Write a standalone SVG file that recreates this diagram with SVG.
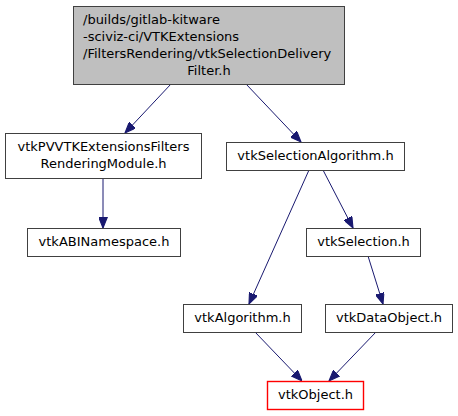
<svg xmlns="http://www.w3.org/2000/svg" width="458" height="416" viewBox="0 0 458 416">
<style>
.n rect{fill:#fff;stroke:#404040;stroke-width:1}
.root rect{fill:#bfbfbf}
text{font-family:"DejaVu Sans",sans-serif;font-size:13px;fill:#000}
.e{stroke:#191970;stroke-width:1;fill:none;marker-end:url(#a)}
</style>
<defs>
<marker id="a" viewBox="0 0 10 8" refX="10" refY="4" markerWidth="11" markerHeight="9" markerUnits="userSpaceOnUse" orient="auto">
<path d="M0,0L10,4L0,8z" fill="#191970" stroke="#191970"/>
</marker>
</defs>
<rect width="458" height="416" fill="#fff"/>
<g id="connectors">
<line class="e" x1="171" y1="84" x2="125" y2="133"/>
<line class="e" x1="246" y1="84" x2="301" y2="142"/>
<line class="e" x1="103" y1="178" x2="103" y2="228"/>
<line class="e" x1="309" y1="170" x2="249" y2="304"/>
<line class="e" x1="323" y1="170" x2="353" y2="228"/>
<line class="e" x1="368" y1="256" x2="383" y2="304"/>
<line class="e" x1="255" y1="332" x2="302" y2="381"/>
<line class="e" x1="376" y1="332" x2="329" y2="381"/>
</g>
<g id="root" class="n root">
<rect x="73.5" y="6.5" width="271" height="78"/>
<text x="83" y="24">/builds/gitlab-kitware</text>
<text x="83" y="41">-sciviz-ci/VTKExtensions</text>
<text x="83" y="58">/FiltersRendering/vtkSelectionDelivery</text>
<text x="209" y="75" text-anchor="middle">Filter.h</text>
</g>
<g id="pvvtk" class="n">
<rect x="5.5" y="133.5" width="196" height="45"/>
<text x="103.5" y="151" text-anchor="middle">vtkPVVTKExtensionsFilters</text>
<text x="103.5" y="168" text-anchor="middle">RenderingModule.h</text>
</g>
<g id="abi" class="n">
<rect x="27.5" y="228.5" width="153" height="28"/>
<text x="104" y="246" text-anchor="middle">vtkABINamespace.h</text>
</g>
<g id="selalg" class="n">
<rect x="226.5" y="142.5" width="178" height="28"/>
<text x="315.5" y="160" text-anchor="middle">vtkSelectionAlgorithm.h</text>
</g>
<g id="selection" class="n">
<rect x="306.5" y="228.5" width="114" height="28"/>
<text x="363.5" y="246" text-anchor="middle">vtkSelection.h</text>
</g>
<g id="algorithm" class="n">
<rect x="183.5" y="304.5" width="118" height="28"/>
<text x="242.5" y="322" text-anchor="middle">vtkAlgorithm.h</text>
</g>
<g id="dataobject" class="n">
<rect x="325.5" y="304.5" width="127" height="28"/>
<text x="389" y="322" text-anchor="middle">vtkDataObject.h</text>
</g>
<g id="object">
<rect x="267.5" y="381.5" width="96" height="28" fill="#ffffff" stroke="#ff0000" stroke-width="1.4"/>
<text x="315.5" y="399" text-anchor="middle">vtkObject.h</text>
</g>
</svg>
